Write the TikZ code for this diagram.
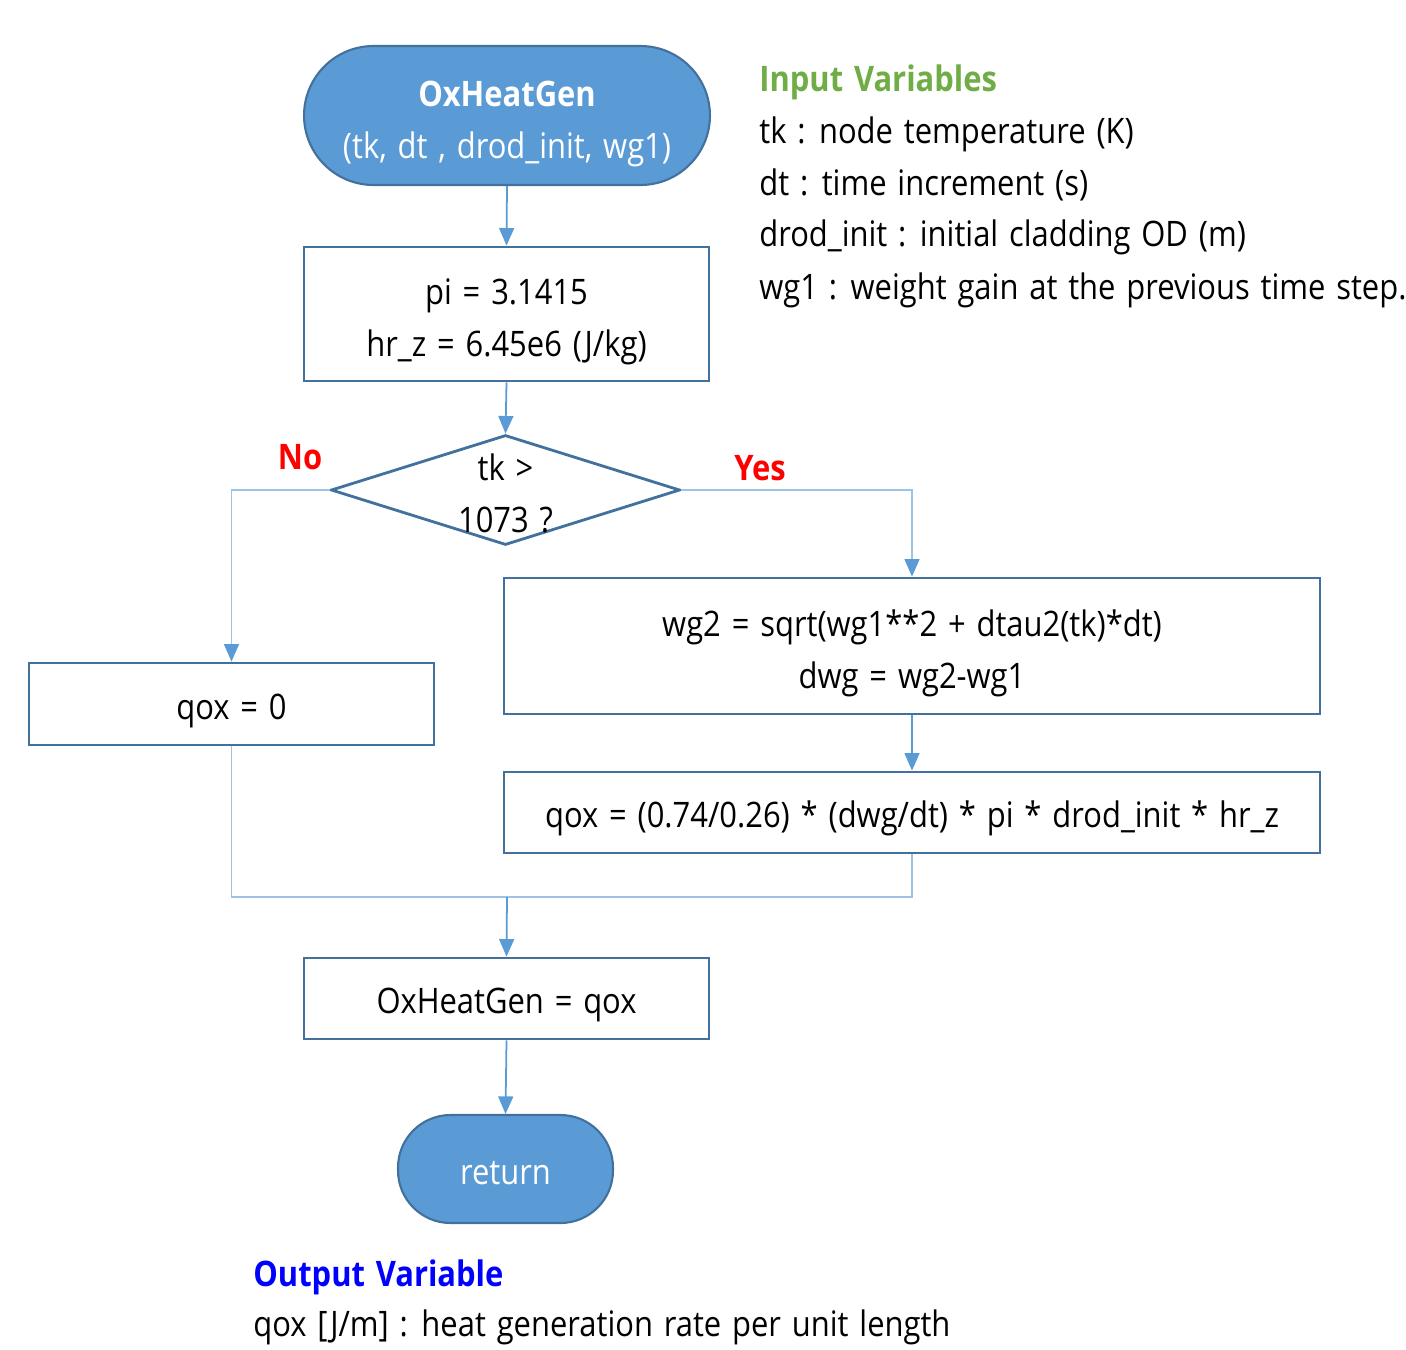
\documentclass[tikz,border=0pt]{standalone}
\usepackage{fontspec}
\setmainfont{Open Sans}[FakeStretch=0.88,WordSpace=1.35]
\usetikzlibrary{shapes.geometric,arrows.meta}
\definecolor{fillblue}{HTML}{5B9BD5}
\definecolor{edgeblue}{HTML}{41719C}
\definecolor{lineblue}{HTML}{5B9BD5}
\definecolor{lightline}{HTML}{9DC3E6}
\definecolor{greentxt}{HTML}{70AD47}
\newcommand{\toppad}{\rule{0pt}{22pt}}
\newcommand{\bigpad}{\rule{0pt}{24pt}}
\begin{document}
\begin{tikzpicture}[x=0.02cm,y=-0.02cm,
  every node/.style={font=\fontsize{20pt}{29.5pt}\selectfont},
  term/.style={draw=edgeblue,line width=1.2pt,fill=fillblue,text=white,align=center,inner sep=0pt},
  procbox/.style={draw=edgeblue,line width=1.6pt,fill=white,align=center,inner sep=0pt},
  decide/.style={diamond,draw=edgeblue,line width=1.6pt,inner sep=0pt},
  conn/.style={draw=lineblue,line width=1pt,-{Triangle[length=10pt,width=8.5pt]}},
  light/.style={draw=lightline,line width=1pt},
  lightarrow/.style={draw=lightline,line width=1pt,-{Triangle[length=10pt,width=8.5pt,color=lineblue]}},
  yesno/.style={text=red,font=\fontsize{20pt}{29.5pt}\selectfont\bfseries},
  plain/.style={anchor=west,inner sep=0pt}
]
\useasboundingbox (0,0) rectangle (1406,1349);

\node[term,minimum width=8.12cm,minimum height=2.78cm,rounded corners=1.39cm] (start) at (507,115.5)
  {\bigpad{\bfseries OxHeatGen}\\(tk, dt , drod\_init, wg1)};
\node[procbox,minimum width=8.1cm,minimum height=2.68cm] (init) at (506.5,314)
  {\bigpad pi = 3.1415\\hr\_z = 6.45e6 (J/kg)};
\node[decide,minimum width=6.98cm,minimum height=2.2cm] (dec) at (505.5,490) {};
\node[align=center,inner sep=0pt] (dectxt) at (505.5,493) {tk >\\1073 ?};
\node[procbox,minimum width=8.1cm,minimum height=1.64cm] (zero) at (231.5,704) {\toppad qox = 0};
\node[procbox,minimum width=16.32cm,minimum height=2.72cm] (wg) at (912,646)
  {\bigpad wg2 = sqrt(wg1**2 + dtau2(tk)*dt)\\dwg = wg2-wg1};
\node[procbox,minimum width=16.32cm,minimum height=1.62cm] (form) at (912,812.5)
  {\toppad qox = (0.74/0.26) * (dwg/dt) * pi * drod\_init * hr\_z};
\node[procbox,minimum width=8.1cm,minimum height=1.62cm] (res) at (506.5,998.5) {\toppad OxHeatGen = qox};
\node[term,minimum width=4.3cm,minimum height=2.16cm,rounded corners=1.05cm] (ret) at (505.5,1169) {\rule{0pt}{18pt}return};

\coordinate (merge) at (507,897);

\draw[conn] (start.south) -- (init.north);
\draw[conn] (init.south) -- (dec.north);
\draw[lightarrow] (dec.west) -| (zero.north);
\draw[lightarrow] (dec.east) -| (wg.north);
\draw[conn] (wg.south) -- (form.north);
\draw[light] (zero.south) |- (merge);
\draw[light] (form.south) |- (merge);
\draw[conn] (merge) -- (res.north);
\draw[conn] (res.south) -- (ret.north);

\node[yesno] (no) at (300,457) {No};
\node[yesno] (yes) at (760,468) {Yes};

\node[plain,text=greentxt,font=\fontsize{20pt}{29.5pt}\selectfont\bfseries] (inhead) at (759,82) {Input Variables};
\node[plain] (in1) at (759,134) {tk : node temperature (K)};
\node[plain] (in2) at (759,185) {dt : time increment (s)};
\node[plain] (in3) at (759,237) {drod\_init : initial cladding OD (m)};
\node[plain] (in4) at (759,290) {wg1 : weight gain at the previous time step.};

\node[plain,text=blue,font=\fontsize{20pt}{29.5pt}\selectfont\bfseries] (outhead) at (253,1277) {Output Variable};
\node[plain] (out1) at (253,1327) {qox [J/m] : heat generation rate per unit length};
\end{tikzpicture}
\end{document}
